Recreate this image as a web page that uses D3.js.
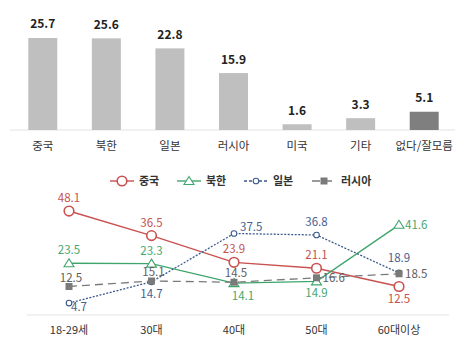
<!DOCTYPE html>
<html>
<head>
<meta charset="utf-8">
<script src="https://cdn.jsdelivr.net/npm/d3@7"></script>
<style>
  body { margin: 0; background: #fff; }
  svg { display: block; font-family: "Noto Sans CJK KR", "Noto Sans", sans-serif; }
</style>
</head>
<body>
<div id="chart"></div>
<script>
// top: overall answer shares
const barCategories = ["중국", "북한", "일본", "러시아", "미국", "기타", "없다/잘모름"]
const barValues = [25.7, 25.6, 22.8, 15.9, 1.6, 3.3, 5.1]

// bottom: by age group
const ageGroups = ["18-29세", "30대", "40대", "50대", "60대이상"]
const seriesNames = ["중국", "북한", "일본", "러시아"]
const chinaValues = [48.1, 36.5, 23.9, 21.1, 12.5]
const nkValues = [23.5, 23.3, 14.1, 14.9, 41.6]
const japanValues = [4.7, 14.7, 37.5, 36.8, 18.9]
const russiaValues = [12.5, 15.1, 14.5, 16.6, 18.5]

const width = 465, height = 352

const svg = d3.select("#chart")
    .append("svg")
    .attr("width", width)
    .attr("height", height)

// ---------- bar chart ----------
const xBar = d3.scaleBand()
    .domain(barCategories)
    .range([11, 456])
    .paddingInner(0.544)
    .paddingOuter(0.272)

const yBar = d3.scaleLinear()
    .domain([0, 30])
    .range([130, 22.6])

const bars = svg.append("g")

bars.append("line")
    .attr("x1", 10).attr("x2", 455)
    .attr("y1", yBar(0)).attr("y2", yBar(0))
    .attr("stroke", "#e3e3e3")
    .attr("stroke-width", 1)

bars.selectAll("rect")
    .data(barValues)
    .join("rect")
    .attr("x", (d, i) => xBar(barCategories[i]))
    .attr("y", d => yBar(d))
    .attr("width", xBar.bandwidth())
    .attr("height", d => yBar(0) - yBar(d))
    .attr("fill", (d, i) => i === barValues.length - 1 ? "#7f7f7f" : "#bfbfbf")

bars.selectAll("text.val")
    .data(barValues)
    .join("text")
    .attr("class", "val")
    .attr("x", (d, i) => xBar(barCategories[i]) + xBar.bandwidth() / 2)
    .attr("y", d => yBar(d) - 9.5)
    .attr("text-anchor", "middle")
    .style("font-size", "12px")
    .style("font-weight", "bold")
    .attr("fill", "#222")
    .text(d => d.toFixed(1))

bars.selectAll("text.cat")
    .data(barCategories)
    .join("text")
    .attr("class", "cat")
    .attr("x", d => xBar(d) + xBar.bandwidth() / 2)
    .attr("y", 150)
    .attr("text-anchor", "middle")
    .style("font-size", "11.5px")
    .attr("fill", "#333")
    .text(d => d)

// ---------- line chart ----------
const xLine = d3.scalePoint()
    .domain(ageGroups)
    .range([69, 399])

const yLine = d3.scaleLinear()
    .domain([0, 50])
    .range([313, 207])

const series = [
    { name: seriesNames[0], values: chinaValues, color: "#c9514f", text: "#c4524f", dash: null, marker: "circle",
      place: ["a", "a", "a", "a", "b"] },
    { name: seriesNames[1], values: nkValues, color: "#3fa56c", text: "#45a870", dash: null, marker: "triangle",
      place: ["a", "a", "br", "b", "r"] },
    { name: seriesNames[2], values: japanValues, color: "#3b5a8c", text: "#44618f", dash: "2,1.5", marker: "dot",
      place: ["lr", "b", "ur", "a", "a2"] },
    { name: seriesNames[3], values: russiaValues, color: "#7a7a7a", text: "#5e5e5e", dash: "8,5", marker: "square",
      place: ["a3", "a3", "a3", "r", "r"] }
]

const lines = svg.append("g")

lines.append("line")
    .attr("x1", 27).attr("x2", 449)
    .attr("y1", 315).attr("y2", 315)
    .attr("stroke", "#e3e3e3")

lines.selectAll("text.age")
    .data(ageGroups)
    .join("text")
    .attr("class", "age")
    .attr("x", d => xLine(d))
    .attr("y", 334)
    .attr("text-anchor", "middle")
    .style("font-size", "11px")
    .attr("fill", "#333")
    .text(d => d)

function drawMarker(g, type, color, x, y) {
    if (type === "circle") {
        g.append("circle").attr("cx", x).attr("cy", y).attr("r", 4.8)
            .attr("fill", "#fff").attr("stroke", color).attr("stroke-width", 1.6)
    } else if (type === "triangle") {
        g.append("path")
            .attr("d", `M${x},${y - 4.5}L${x + 5},${y + 3.5}L${x - 5},${y + 3.5}Z`)
            .attr("fill", "#fff").attr("stroke", color).attr("stroke-width", 1.1)
    } else if (type === "dot") {
        g.append("circle").attr("cx", x).attr("cy", y).attr("r", 2.8)
            .attr("fill", "#fff").attr("stroke", color).attr("stroke-width", 1.1)
    } else {
        g.append("rect").attr("x", x - 3.5).attr("y", y - 3.5).attr("width", 7).attr("height", 7)
            .attr("fill", color)
    }
}

const lineGen = d3.line()
    .x((d, i) => xLine(ageGroups[i]))
    .y(d => yLine(d))

// label placement: [dx, dy, anchor]
const offsets = {
    a: [0, -9, "middle"],
    a2: [0, -11, "middle"],
    a3: [2, -5, "middle"],
    b: [0, 16, "middle"],
    br: [9, 17, "middle"],
    r: [6, 4, "start"],
    ur: [6, -3, "start"],
    lr: [2, 8, "start"]
}

series.forEach(s => {
    const g = lines.append("g")
    g.append("path")
        .attr("d", lineGen(s.values))
        .attr("fill", "none")
        .attr("stroke", s.color)
        .attr("stroke-width", s.dash ? 1.3 : 1.4)
        .attr("stroke-dasharray", s.dash)
    s.values.forEach((v, i) => drawMarker(g, s.marker, s.color, xLine(ageGroups[i]), yLine(v)))
})

// labels on top of lines
series.forEach(s => {
    lines.append("g").selectAll("text")
        .data(s.values)
        .join("text")
        .attr("x", (d, i) => xLine(ageGroups[i]) + offsets[s.place[i]][0])
        .attr("y", (d, i) => yLine(d) + offsets[s.place[i]][1])
        .attr("text-anchor", (d, i) => offsets[s.place[i]][2])
        .style("font-size", "11.5px")
        .attr("fill", s.text)
        .text(d => d.toFixed(1))
})

// legend
const legendX = [110, 177, 244, 312]
const legend = svg.append("g")
series.forEach((s, i) => {
    const lg = legend.append("g")
    const x0 = legendX[i]
    lg.append("line")
        .attr("x1", x0).attr("x2", x0 + 24)
        .attr("y1", 181).attr("y2", 181)
        .attr("stroke", s.color)
        .attr("stroke-width", 1.4)
        .attr("stroke-dasharray", s.dash ? (s.marker === "dot" ? "3,2" : "8,4") : null)
    drawMarker(lg, s.marker, s.color, x0 + 12, 181)
    lg.append("text")
        .attr("x", x0 + 29)
        .attr("y", 185)
        .style("font-size", "11px")
        .style("font-weight", "bold")
        .attr("fill", "#333")
        .text(s.name)
})
</script>
</body>
</html>
